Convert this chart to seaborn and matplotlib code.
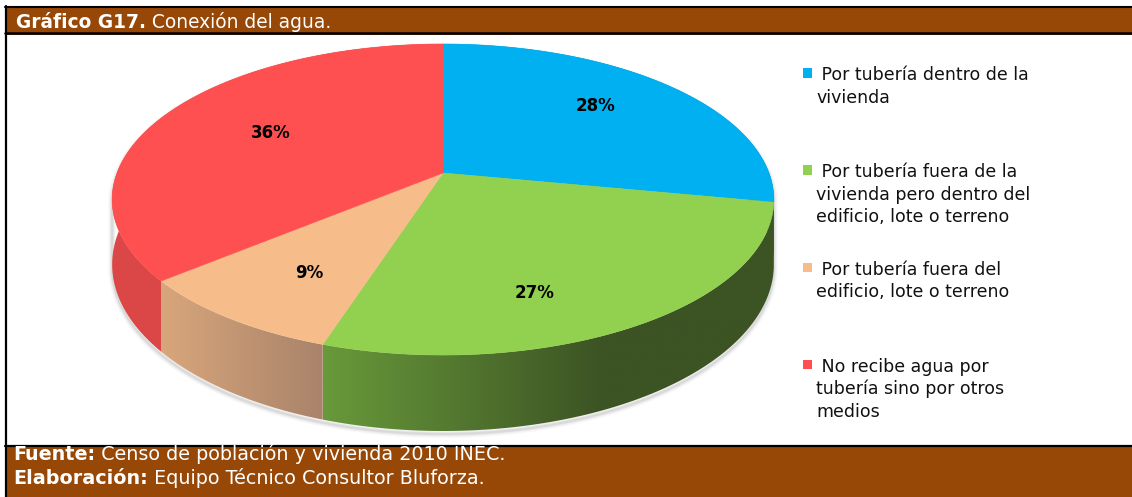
import numpy as np
import matplotlib
matplotlib.use("Agg")
import matplotlib.pyplot as plt
import seaborn as sns
from matplotlib.patches import Polygon, Rectangle
from matplotlib.colors import LinearSegmentedColormap

# ---- data -------------------------------------------------------------
categories = [
    " Por tubería dentro de la\nvivienda",
    " Por tubería fuera de la\nvivienda pero dentro del\nedificio, lote o terreno",
    " Por tubería fuera del\nedificio, lote o terreno",
    " No recibe agua por\ntubería sino por otros\nmedios",
]
shares = [28, 27, 9, 36]

title_bold = "Gráfico G17."
title_rest = " Conexión del agua."
source_bold = ["Fuente:", "Elaboración:"]
source_rest = [" Censo de población y vivienda 2010 INEC.",
               " Equipo Técnico Consultor Bluforza."]

# ---- style ------------------------------------------------------------
sns.set_theme(style="white")
plt.rcParams["font.family"] = ["DejaVu Sans"]

top_colors = ["#00b0f0", "#92d050", "#f6bd8b", "#fe5050"]
wall_colors = [("#0a8fc4", "#06648c"),
               ("#68993a", "#3c5324"),
               ("#d8a67c", "#a9836a"),
               ("#dc4747", "#d84646")]
wall_ramp = [1.0, 0.62, 1.0, 1.0]
BROWN = "#974706"

W, H = 1132, 497
fig = plt.figure(figsize=(W / 100, H / 100), dpi=100)
ax = fig.add_axes([0, 0, 1, 1])
ax.set_xlim(0, W)
ax.set_ylim(H, 0)
ax.axis("off")

# ---- frame: header and footer bands -----------------------------------
ax.add_patch(Rectangle((5, 6), W, 28.5, facecolor=BROWN, edgecolor="none", zorder=1))
ax.plot([5, W], [7, 7], color="black", lw=1.5, zorder=2)
ax.plot([5, W], [33, 33], color="black", lw=1.8, zorder=2)
ax.add_patch(Rectangle((5, 446), W, 60, facecolor=BROWN, edgecolor="none", zorder=1))
ax.plot([5, W], [446.3, 446.3], color="black", lw=1.6, zorder=2)
ax.plot([6, 6], [6, H], color="black", lw=1.6, zorder=2)

# ---- perspective pie geometry ----------------------------------------
CX, CY = 443.0, 173.0      # projected pie centre
RX, RY = 326.0, 151.0      # radii at the centre depth
PERSP = 0.1705             # foreshortening towards the back
DEPTH = 63.0               # thickness of the disc


def project(theta, r=1.0, drop=0.0):
    u = r * np.cos(theta)
    v = r * np.sin(theta)
    w = 1.0 + PERSP * v
    return CX + RX * u / w, CY - RY * v / w + drop / w


total = float(sum(shares))
cum = np.concatenate([[0.0], np.cumsum(shares)]) / total
starts = np.pi / 2 - 2 * np.pi * cum[:-1]
ends = np.pi / 2 - 2 * np.pi * cum[1:]

# soft shadow around the lower silhouette
th_all = np.linspace(0, 2 * np.pi, 720)
pts = np.vstack([np.column_stack(project(th_all)),
                 np.column_stack(project(th_all, drop=DEPTH))])


def hull(p):
    p = sorted(map(tuple, p))
    def half(seq):
        out = []
        for q in seq:
            while len(out) >= 2 and ((out[-1][0] - out[-2][0]) * (q[1] - out[-2][1])
                                     - (out[-1][1] - out[-2][1]) * (q[0] - out[-2][0])) <= 0:
                out.pop()
            out.append(q)
        return out
    lo = half(p)
    hi = half(reversed(p))
    return np.array(lo[:-1] + hi[:-1])


sil = hull(pts) + np.array([0.0, 3.0])
for lw, a in [(8, 0.04), (5.5, 0.05), (3.5, 0.07), (2.0, 0.09)]:
    ax.add_patch(Polygon(sil, closed=True, facecolor="none", edgecolor="#606060",
                         lw=lw * 0.72, alpha=a, joinstyle="round", zorder=3))

# outer walls with a left-to-right shading ramp
for i in range(len(shares)):
    th = np.linspace(starts[i], ends[i], 200)
    tx, ty = project(th)
    bx, by = project(th, drop=DEPTH)
    poly = np.column_stack([np.concatenate([tx, bx[::-1]]),
                            np.concatenate([ty, by[::-1]])])
    patch = Polygon(poly, closed=True, facecolor="none", edgecolor="none", zorder=4)
    ax.add_patch(patch)
    x0, x1 = poly[:, 0].min(), poly[:, 0].max()
    y0, y1 = poly[:, 1].min(), poly[:, 1].max()
    cmap = LinearSegmentedColormap.from_list(f"wall{i}", list(wall_colors[i]))
    xs = np.linspace(0, 1, 400)
    grad = np.clip(xs / wall_ramp[i], 0, 1)[None, :]
    im = ax.imshow(grad, extent=(x0, x1, y1, y0), cmap=cmap, vmin=0, vmax=1,
                   aspect="auto", interpolation="bilinear", zorder=4)
    im.set_clip_path(patch)

# top faces
for i in range(len(shares)):
    th = np.linspace(starts[i], ends[i], 200)
    tx, ty = project(th)
    poly = np.column_stack([np.concatenate([[CX], tx]), np.concatenate([[CY], ty])])
    ax.add_patch(Polygon(poly, closed=True, facecolor=top_colors[i],
                         edgecolor=top_colors[i], lw=0.4, zorder=5))

# value labels
label_r = [0.66, 0.74, 0.70, 0.62]
label_shift = [(-2, -8), (-46, 12), (9, 3), (3, -2)]
for i, v in enumerate(shares):
    mid = 0.5 * (starts[i] + ends[i])
    lx, ly = project(mid, r=label_r[i])
    ax.text(lx + label_shift[i][0], ly + label_shift[i][1], f"{v}%",
            ha="center", va="center", fontsize=12, fontweight="bold",
            color="black", zorder=6)

# ---- legend -----------------------------------------------------------
for i, lab in enumerate(categories):
    base = 80.0 + 97.3 * i
    ax.add_patch(Rectangle((802.5, base - 12), 9.5, 9.5, facecolor=top_colors[i],
                           edgecolor="none", zorder=6))
    for j, line in enumerate(lab.split("\n")):
        ax.text(816.5, base + 22.6 * j, line, ha="left", va="baseline",
                fontsize=12.5, color="#111111", zorder=6)

# ---- header / footer text --------------------------------------------
fig.canvas.draw()
renderer = fig.canvas.get_renderer()


def two_part(x, y, bold, rest, size):
    t = ax.text(x, y, bold, ha="left", va="baseline", fontsize=size,
                fontweight="bold", color="white", zorder=6)
    bb = t.get_window_extent(renderer=renderer)
    ax.text(bb.x1, y, rest, ha="left", va="baseline", fontsize=size,
            color="white", zorder=6)


two_part(16, 27.5, title_bold, title_rest, 13.4)
two_part(13, 459.5, source_bold[0], source_rest[0], 13.8)
two_part(13, 484, source_bold[1], source_rest[1], 13.8)

ax.set_xlim(0, W)
ax.set_ylim(H, 0)
fig.savefig("out.png", dpi=100, facecolor="white")
